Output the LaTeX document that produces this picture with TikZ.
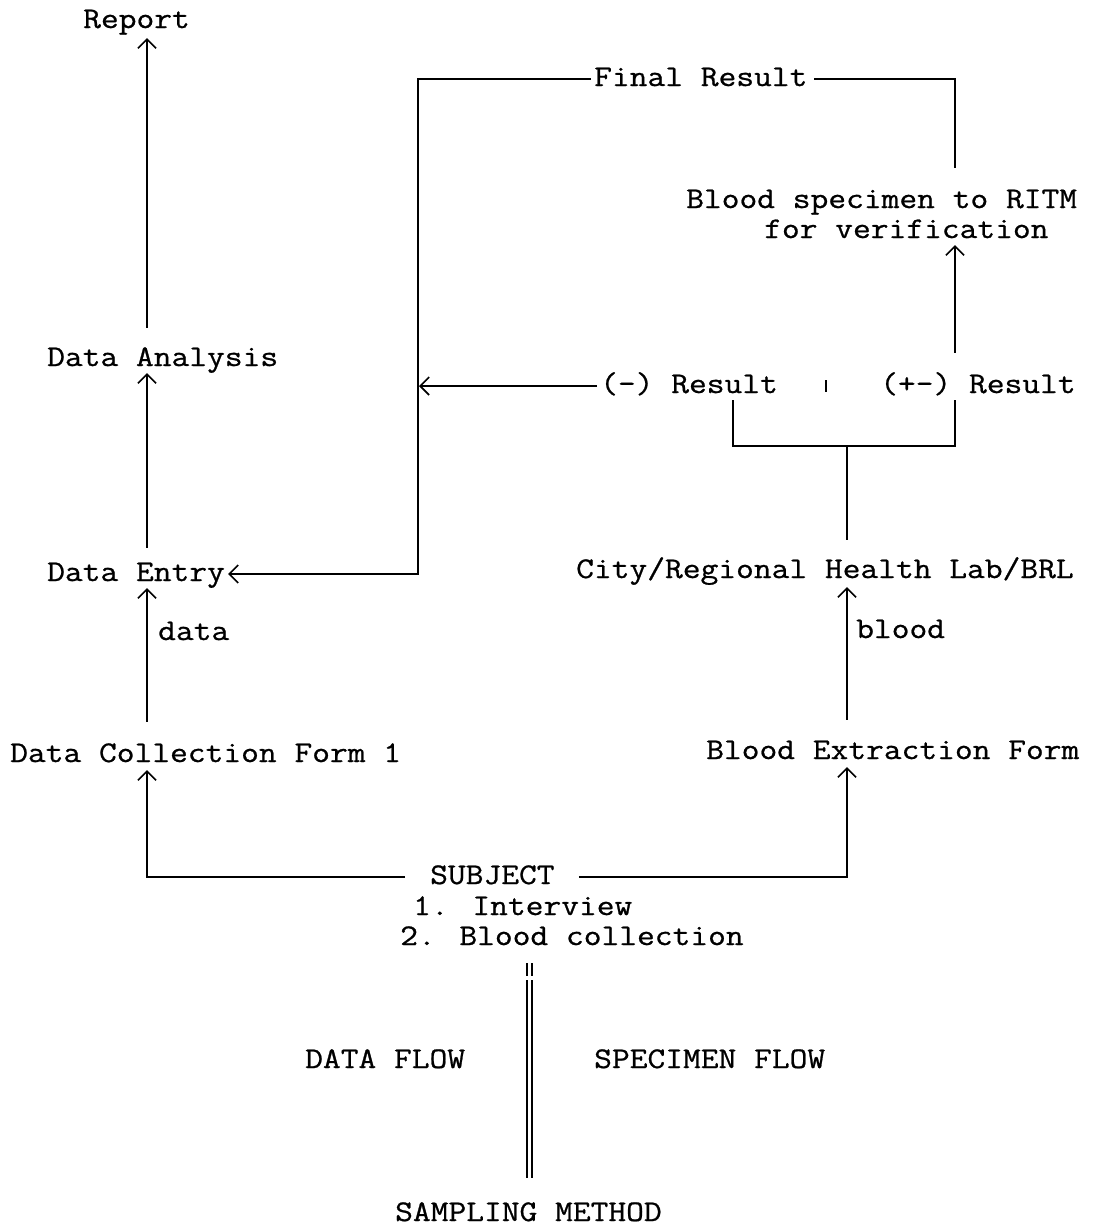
\documentclass[tikz,border=0pt]{standalone}
\usepackage{fontspec}
\setmainfont{Latin Modern Mono}[FakeStretch=1.15,FakeBold=0.8]
\usetikzlibrary{arrows.meta}
\begin{document}
\begin{tikzpicture}[x=1pt,y=-1pt,
  txt/.style={anchor=base west,inner sep=0pt,text height=21pt,text depth=7pt,
    font=\fontsize{30}{36}\selectfont},
  ln/.style={line width=1.8pt},
  arr/.style={ln,-{Straight Barb[length=9pt,width=18pt,line width=1.6pt]}}]
\useasboundingbox (0,0) rectangle (1106,1227);
% column helpers
\coordinate (colL) at (147,0);
\coordinate (colM) at (418,0);
\coordinate (brL) at (733,0);
\coordinate (colR) at (847,0);
\coordinate (colV) at (955,0);
\coordinate (brk) at (847,446);
% texts
\node[txt] (rep) at (83,28) {Report};
\node[txt] (fr) at (594,86) {Final Result};
\node[txt] (bs1) at (686,208) {Blood specimen to RITM};
\node[txt] (bs2) at (764,238) {for verification};
\node[txt] (da) at (47,366) {Data Analysis};
\node[txt] (neg) at (600,393) {(-) Result};
\node[txt] (pos) at (880,393) {(+-) Result};
\node[txt] (de) at (47,581) {Data Entry};
\node[txt] (lab) at (576,578) {City/Regional Health Lab/BRL};
\node[txt] (dlab) at (158,640) {data};
\node[txt] (blab) at (856,638) {blood};
\node[txt] (bef) at (706,759) {Blood Extraction Form};
\node[txt] (dcf) at (10,762) {Data Collection Form 1};
\node[txt] (subj) at (430,884) {SUBJECT};
\node[txt] (s1) at (413,915) {1. Interview};
\node[txt] (s2) at (400,945) {2. Blood collection};
\node[txt] (df) at (305,1068) {DATA FLOW};
\node[txt] (sf) at (594,1068) {SPECIMEN FLOW};
\node[txt,text depth=0pt] (sm) at (395,1221) {SAMPLING METHOD};
% data flow column
\draw[arr] ([yshift=17pt]da.north -| colL) -- ([yshift=-3pt]rep.south -| colL);
\draw[arr] ([yshift=12pt]de.north -| colL) -- (da.south -| colL);
\draw[arr] ([yshift=19pt]dcf.north -| colL) -- (de.south -| colL);
\draw[arr] ([xshift=-25pt]subj.west) -| ([yshift=-1pt]dcf.south -| colL);
% specimen flow column
\draw[arr] ([xshift=24pt]subj.east) -| ([yshift=-1pt]bef.south -| colR);
\draw[arr] ([yshift=18pt]bef.north -| colR) -- ([yshift=-2pt]lab.south -| colR);
\draw[ln] ([yshift=17pt]lab.north -| colR) -- (brk);
\draw[ln] (neg.south -| brL) |- (brk) -| (pos.south -| colV);
\draw[arr] ([yshift=19pt]pos.north -| colV) -- (bs2.south -| colV);
\draw[ln] ([yshift=19pt]bs1.north -| colV) |- ([xshift=6pt]fr.east);
% results back to data entry
\draw[arr] ([xshift=-3pt]fr.west) -| (colM |- de.east) -- ([xshift=3pt]de.east);
\draw[arr] ([xshift=-3pt]neg.west) -- ([xshift=1pt]neg.west -| colM);
% separator tick
\coordinate (tk1) at (826,380);
\coordinate (tk2) at (826,392);
\draw[ln] (tk1) -- (tk2);
% double divider
\coordinate (dv1) at (529.5,963);
\coordinate (dv2) at (529.5,976);
\coordinate (dv3) at (529.5,980);
\coordinate (dv4) at (529.5,1178);
\draw[line width=1.8pt,double,double distance=3.6pt] (dv1) -- (dv2);
\draw[line width=1.8pt,double,double distance=3.6pt] (dv3) -- (dv4);
\end{tikzpicture}
\end{document}
